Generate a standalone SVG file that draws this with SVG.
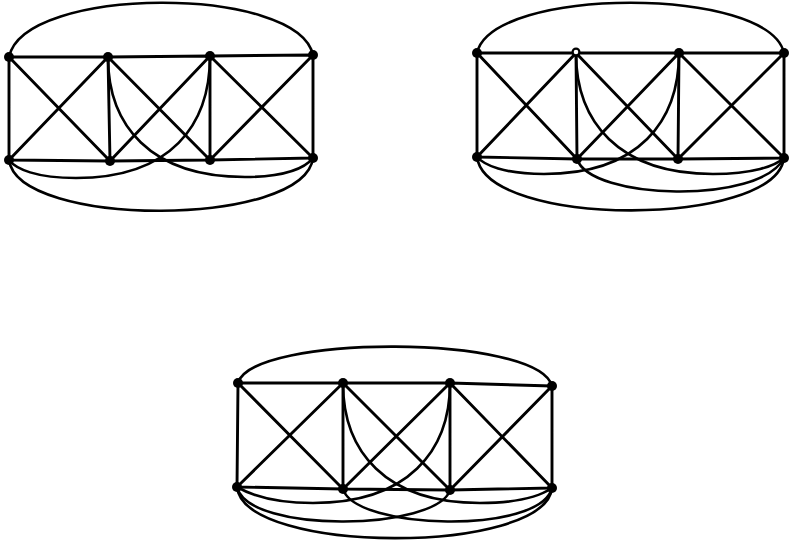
<svg xmlns="http://www.w3.org/2000/svg" width="792" height="542" viewBox="0 0 792 542">
<style>
.e{fill:none;stroke:#000;stroke-width:2.9;stroke-linecap:round}
.c{fill:none;stroke:#000;stroke-width:2.6;stroke-linecap:round}
.n{fill:#000}
.h{fill:#fff;stroke:#000;stroke-width:2.2}
</style>
<rect width="792" height="542" fill="#fff"/>
<!-- Graph 1 -->
<g id="g1-edges">
<path class="e" d="M9,57 L108,57 L210,56 L313,55 M9,160 L110,161 L210,160 L313,158 M9,57 L9,160 M108,57 L110,161 M210,56 L210,160 M313,55 L313,158 M9,57 L110,161 M9,160 L108,57 M108,57 L210,160 M110,161 L210,56 M210,56 L313,158 M210,160 L313,55"/>
<path class="c" d="M9,57 C24,-15 298,-15 313,55"/>
<path class="c" d="M9,160 C18,228 304,228 313,158"/>
<path class="c" d="M108,57 C108,125 150,177 245,177 C285,177 305,168 313,158"/>
<path class="c" d="M210,56 C210,125 171,178 76,178 C36,178 16,169 9,160"/>
</g>
<g id="g1-T1"><circle class="n" cx="9" cy="57" r="5"/></g>
<g id="g1-T2"><circle class="n" cx="108" cy="57" r="5"/></g>
<g id="g1-T3"><circle class="n" cx="210" cy="56" r="5"/></g>
<g id="g1-T4"><circle class="n" cx="313" cy="55" r="5"/></g>
<g id="g1-B1"><circle class="n" cx="9" cy="160" r="5"/></g>
<g id="g1-B2"><circle class="n" cx="110" cy="161" r="5"/></g>
<g id="g1-B3"><circle class="n" cx="210" cy="160" r="5"/></g>
<g id="g1-B4"><circle class="n" cx="313" cy="158" r="5"/></g>
<!-- Graph 2 -->
<g id="g2-edges">
<path class="e" d="M477,53 L576,53 L679,53 L784,53 M477,157 L577,159 L678,159 L784,158 M477,53 L477,157 M576,53 L577,159 M679,53 L678,159 M784,53 L784,158 M477,53 L577,159 M477,157 L576,53 M576,53 L678,159 M577,159 L679,53 M679,53 L784,158 M678,159 L784,53"/>
<path class="c" d="M477,53 C492,-14 769,-14 784,53"/>
<path class="c" d="M477,157 C486,228 775,228 784,158"/>
<path class="c" d="M576,53 C576,121 618,174 713,174 C753,174 775,166 784,158"/>
<path class="c" d="M679,53 C679,121 639,174 544,174 C504,174 484,165 477,157"/>
<path class="c" d="M577,159 C590,200 760,205 784,158"/>
</g>
<g id="g2-T1"><circle class="n" cx="477" cy="53" r="5"/></g>
<g id="g2-T2"><circle class="h" cx="576" cy="52" r="3.4"/></g>
<g id="g2-T3"><circle class="n" cx="679" cy="53" r="5"/></g>
<g id="g2-T4"><circle class="n" cx="784" cy="53" r="5"/></g>
<g id="g2-B1"><circle class="n" cx="477" cy="157" r="5"/></g>
<g id="g2-B2"><circle class="n" cx="577" cy="159" r="5"/></g>
<g id="g2-B3"><circle class="n" cx="678" cy="159" r="5"/></g>
<g id="g2-B4"><circle class="n" cx="784" cy="158" r="5"/></g>
<!-- Graph 3 -->
<g id="g3-edges">
<path class="e" d="M238,383 L343,383 L450,383 L552,386 M237,487 L343,489 L450,490 L552,488 M238,383 L237,487 M343,383 L343,489 M450,383 L450,490 M552,386 L552,488 M238,383 L343,489 M237,487 L343,383 M343,383 L450,490 M343,489 L450,383 M450,383 L552,488 M450,490 L552,386"/>
<path class="c" d="M238,383 C252,334 538,334 552,386"/>
<path class="c" d="M237,487 C244,555 545,555 552,488"/>
<path class="c" d="M343,489 C355,530 540,535 552,488"/>
<path class="c" d="M237,487 C249,535 438,530 450,490"/>
<path class="c" d="M343,383 C343,451 385,503 480,503 C520,503 540,496 552,488"/>
<path class="c" d="M450,383 C450,451 408,503 313,503 C273,503 251,495 237,487"/>
</g>
<g id="g3-T1"><circle class="n" cx="238" cy="383" r="5"/></g>
<g id="g3-T2"><circle class="n" cx="343" cy="383" r="5"/></g>
<g id="g3-T3"><circle class="n" cx="450" cy="383" r="5"/></g>
<g id="g3-T4"><circle class="n" cx="552" cy="386" r="5"/></g>
<g id="g3-B1"><circle class="n" cx="237" cy="487" r="5"/></g>
<g id="g3-B2"><circle class="n" cx="343" cy="489" r="5"/></g>
<g id="g3-B3"><circle class="n" cx="450" cy="490" r="5"/></g>
<g id="g3-B4"><circle class="n" cx="552" cy="488" r="5"/></g>
</svg>
